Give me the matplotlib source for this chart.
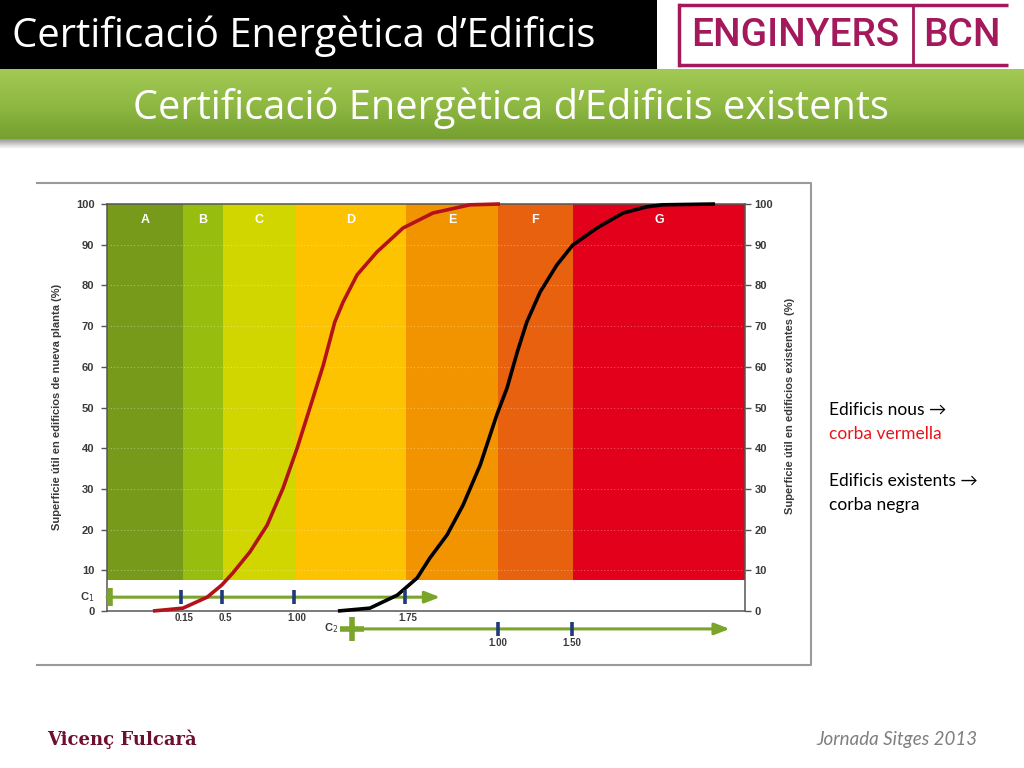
import numpy as np
import matplotlib.pyplot as plt
from matplotlib.colors import LinearSegmentedColormap

# bandes de qualificacio (posicio relativa 0-100 sobre l'eix x)
lletres = ['A', 'B', 'C', 'D', 'E', 'F', 'G']
limits = [0, 11.9, 18.2, 29.6, 46.9, 61.3, 73.0, 100]
colors_bandes = ['#789a1b', '#97bd0f', '#d1d600', '#fdc300', '#f29400', '#e8610e', '#e2001a']
base_bandes = 7.6

# corba vermella: edificis nous
x_nous = [7.2, 11.9, 15.7, 18.0, 19.7, 22.4, 25.1, 27.6, 29.8, 31.8, 33.9, 35.7,
          37.0, 39.2, 42.3, 46.4, 51.1, 56.9, 61.6]
y_nous = [0, 0.7, 3.4, 6.4, 9.3, 14.5, 21.1, 30.2, 40, 49.9, 60.4, 71.0,
          75.9, 82.6, 88.2, 94.1, 97.8, 99.8, 100]

# corba negra: edificis existents
x_exist = [36.2, 41.2, 45.5, 48.6, 50.6, 53.3, 55.8, 58.5, 61.1, 62.7, 64.3, 65.8,
           67.9, 70.5, 73.0, 76.8, 80.9, 84.6, 87.1, 95.3]
y_exist = [0, 0.7, 3.9, 8.1, 13, 18.7, 26, 35.9, 48.2, 54.8, 63.6, 71,
           78.4, 85, 89.9, 94.1, 97.8, 99.3, 99.8, 100]

# escales C1 i C2
c1_pos = [11.6, 18.0, 29.3, 46.7]
c1_labels = ['0.15', '0.5', '1.00', '1.75']
c2_pos = [61.3, 72.9]
c2_labels = ['1.00', '1.50']
y_c1 = 3.4
y_c2 = -4.4

verd = '#7aa52a'
blau = '#1f3a7a'
gris = '#3a3a3a'

fig = plt.figure(figsize=(10.24, 7.68), dpi=100)
fig.patch.set_facecolor('white')

# fons de la diapositiva en coordenades de pixel
bg = fig.add_axes([0, 0, 1, 1], zorder=0)
bg.set_xlim(0, 1024)
bg.set_ylim(768, 0)
bg.axis('off')

# capcalera negra
bg.fill_between([0, 657], 0, 69, color='black', lw=0)
bg.text(12, 47, 'Certificació Energètica d’Edificis', color='white', fontsize=28.8,
        family=['Open Sans', 'DejaVu Sans'], va='baseline', ha='left')

# logo
granat = '#a3195b'
bg.plot([678, 1008], [5, 5], color=granat, lw=2.5, solid_capstyle='butt')
bg.plot([678, 1008], [65, 65], color=granat, lw=2.5, solid_capstyle='butt')
bg.plot([679, 679], [5, 65], color=granat, lw=2.5)
bg.plot([913, 913], [5, 65], color=granat, lw=2.0)
bg.text(795, 35, 'ENGINYERS', color=granat, fontsize=28, fontweight='medium', ha='center',
        va='center', family=['Roboto', 'DejaVu Sans'])
bg.text(962, 35, 'BCN', color=granat, fontsize=28, fontweight='medium', ha='center',
        va='center', family=['Roboto', 'DejaVu Sans'])

# banda verda amb degradat i ombra
cmap_verd = LinearSegmentedColormap.from_list('v', ['#a2c954', '#8fb943', '#76a030'])
bg.imshow(np.linspace(0, 1, 100).reshape(-1, 1), cmap=cmap_verd, aspect='auto',
          extent=[0, 1024, 139, 69], zorder=1)
cmap_ombra = LinearSegmentedColormap.from_list('o', ['#9a9a9a', '#ffffff'])
bg.imshow(np.linspace(0, 1, 20).reshape(-1, 1), cmap=cmap_ombra, aspect='auto',
          extent=[0, 1024, 149, 139], zorder=1)
bg.set_xlim(0, 1024)
bg.set_ylim(768, 0)
bg.text(511, 119, 'Certificació Energètica d’Edificis existents', color='white', fontsize=28.6,
        family=['Open Sans', 'DejaVu Sans'], va='baseline', ha='center', zorder=2)

# marc de la imatge del grafic
bg.plot([37, 811, 811, 37], [183, 183, 665, 665], color='#9a9a9a', lw=1.5)

# etiquetes dels eixos
bg.text(57, 407, 'Superficie útil en edificios de nueva planta (%)', rotation=90,
        ha='center', va='center', fontsize=8, fontweight='bold', color=gris,
        family='Liberation Sans')
bg.text(790, 406, 'Superficie útil en edificios existentes (%)', rotation=90,
        ha='center', va='center', fontsize=8, fontweight='bold', color=gris,
        family='Liberation Sans')
bg.text(94, 597, 'C$_1$', ha='right', va='center', fontsize=8, fontweight='bold',
        color=gris, family='Liberation Sans')
bg.text(338, 628, 'C$_2$', ha='right', va='center', fontsize=8, fontweight='bold',
        color=gris, family='Liberation Sans')

# text explicatiu a la dreta
fam = ['Lato', 'DejaVu Sans']
bg.text(829, 410, 'Edificis nous →', fontsize=12.5, family=fam, va='center')
bg.text(829, 434, 'corba vermella', fontsize=12.5, family=fam, va='center', color='#e8141c')
bg.text(829, 481, 'Edificis existents →', fontsize=12.5, family=fam, va='center')
bg.text(829, 505, 'corba negra', fontsize=12.5, family=fam, va='center')

# peu
bg.text(47, 739, 'Vicenç Fulcarà', fontsize=13, fontweight='bold', family='DejaVu Serif',
        color='#6d1030', va='center')
bg.text(977, 739, 'Jornada Sitges 2013', fontsize=13.5, style='italic', family=fam,
        color='#7f7f7f', va='center', ha='right')

# grafic principal
ax = fig.add_axes([107 / 1024, 1 - 611 / 768, 638 / 1024, 407 / 768], zorder=2)
ax.set_xlim(0, 100)
ax.set_ylim(0, 100)
ax.set_facecolor('white')

amplades = np.diff(limits)
ax.bar(limits[:-1], 100 - base_bandes, width=amplades, bottom=base_bandes, align='edge',
       color=colors_bandes, lw=0, zorder=1)
for lletra, x0, w in zip(lletres, limits[:-1], amplades):
    ax.text(x0 + w / 2, 96, lletra, color='white', fontsize=9, fontweight='bold',
            ha='center', va='center', family='Liberation Sans', zorder=3)

for yv in range(10, 100, 10):
    ax.plot([0, 100], [yv, yv], color='white', lw=0.8, ls=(0, (1, 2)), alpha=0.35, zorder=2)

ax.plot(x_nous, y_nous, color='#b3121b', lw=2.6, zorder=4, clip_on=False,
        solid_capstyle='butt', solid_joinstyle='round')
ax.plot(x_exist, y_exist, color='black', lw=2.6, zorder=4, clip_on=False,
        solid_capstyle='butt', solid_joinstyle='round')

# escala C1
ax.annotate('', xy=(52.2, y_c1), xytext=(0, y_c1), annotation_clip=False,
            arrowprops=dict(arrowstyle='-|>,head_length=0.9,head_width=0.35', color=verd,
                            lw=2.2, shrinkA=0, shrinkB=0), zorder=3)
ax.plot([0.5, 0.5], [1.2, 5.6], color=verd, lw=4, solid_capstyle='butt', zorder=3)
ax.plot(c1_pos, [y_c1] * len(c1_pos), ls='none', marker='|', ms=10, mew=2.6,
        color=blau, zorder=5)
for xp, lab in zip(c1_pos, c1_labels):
    ax.text(xp + 0.5, -1.8, lab, ha='center', va='center', fontsize=7, fontweight='bold',
            color=gris, family='Liberation Sans', clip_on=False)

# escala C2
ax.annotate('', xy=(97.6, y_c2), xytext=(38.4, y_c2), annotation_clip=False,
            arrowprops=dict(arrowstyle='-|>,head_length=0.9,head_width=0.35', color=verd,
                            lw=2.2, shrinkA=0, shrinkB=0))
ax.plot([38.4], [y_c2], marker='+', ms=17, mew=4, color=verd, clip_on=False)
ax.plot(c2_pos, [y_c2] * len(c2_pos), ls='none', marker='|', ms=10, mew=2.6,
        color=blau, clip_on=False, zorder=5)
for xp, lab in zip(c2_pos, c2_labels):
    ax.text(xp, -7.9, lab, ha='center', va='center', fontsize=7, fontweight='bold',
            color=gris, family='Liberation Sans', clip_on=False)

# eixos
ax.set_xticks([])
ax.set_yticks(range(0, 101, 10))
ax.tick_params(axis='y', length=4, width=1, color='#555555', labelsize=8, pad=5,
               labelcolor=gris)
for lab in ax.get_yticklabels():
    lab.set_fontweight('bold')
    lab.set_family('Liberation Sans')
for sp in ax.spines.values():
    sp.set_color('#555555')
    sp.set_linewidth(1.1)

ax2 = ax.twinx()
ax2.set_ylim(0, 100)
ax2.set_yticks(range(0, 101, 10))
ax2.tick_params(axis='y', length=4, width=1, color='#555555', labelsize=8, pad=3,
                labelcolor=gris)
for lab in ax2.get_yticklabels():
    lab.set_fontweight('bold')
    lab.set_family('Liberation Sans')
for sp in ax2.spines.values():
    sp.set_visible(False)

fig.savefig('out.png', dpi=100)
